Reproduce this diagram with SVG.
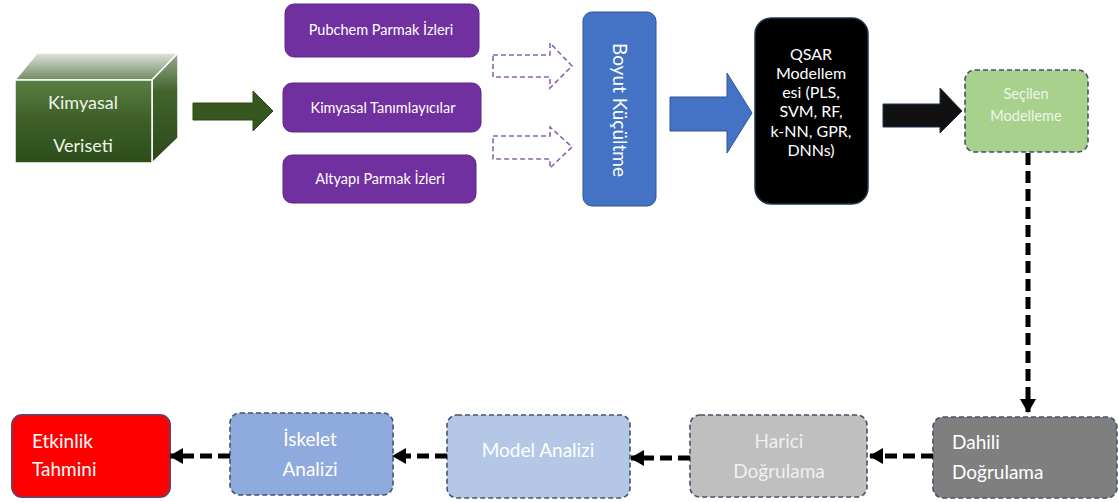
<svg xmlns="http://www.w3.org/2000/svg" width="1118" height="502" viewBox="0 0 1118 502">
  <style>
    .t { font-family: Lato, "Open Sans", "Liberation Sans", sans-serif; fill: #ffffff; }
    .purple { fill: #7030A0; stroke: #5a2585; stroke-width: 1; }
    .hollow { fill: none; stroke: #8a63b0; stroke-width: 1.6; stroke-dasharray: 5 3; }
    .dash { fill: none; stroke: #000000; stroke-width: 5; stroke-dasharray: 12 6; }
    .dbox { stroke: #44546A; stroke-width: 1.6; stroke-dasharray: 5 3; }
  </style>
  <defs>
    <linearGradient id="gFront" x1="0" y1="0" x2="0" y2="1">
      <stop offset="0" stop-color="#5a7f44"/>
      <stop offset="0.45" stop-color="#3f6128"/>
      <stop offset="1" stop-color="#2c4d1b"/>
    </linearGradient>
    <linearGradient id="gTop" x1="0" y1="0" x2="0" y2="1">
      <stop offset="0" stop-color="#dfe3df"/>
      <stop offset="1" stop-color="#6f8c5f"/>
    </linearGradient>
    <linearGradient id="gSide" x1="0" y1="0" x2="0" y2="1">
      <stop offset="0" stop-color="#9aab92"/>
      <stop offset="0.35" stop-color="#41632c"/>
      <stop offset="1" stop-color="#2a4a1a"/>
    </linearGradient>
    <marker id="head" markerUnits="userSpaceOnUse" markerWidth="14" markerHeight="16" refX="13" refY="8" orient="auto">
      <path d="M0,0 L14,8 L0,16 Z" fill="#000000"/>
    </marker>
  </defs>

  <!-- Source data cube -->
  <g id="kimyasal-veriseti">
    <polygon points="15,80 37,53 178,53 152,80" fill="url(#gTop)" stroke="#ffffff" stroke-width="1.5"/>
    <polygon points="152,80 178,53 178,138 152,163" fill="url(#gSide)" stroke="#ffffff" stroke-width="1.5"/>
    <rect x="15" y="80" width="137" height="83" fill="url(#gFront)" stroke="#ffffff" stroke-width="1.5"/>
    <text class="t" x="83" y="109" font-size="18" text-anchor="middle" style="fill:#eef4ea">Kimyasal</text>
    <text class="t" x="83" y="152" font-size="18" text-anchor="middle" style="fill:#eef4ea">Veriseti</text>
  </g>

  <!-- Fingerprint / descriptor boxes -->
  <g id="pubchem">
    <rect class="purple" x="285" y="4" width="194" height="53" rx="9"/>
    <text class="t" x="381" y="35" font-size="14.5" text-anchor="middle">Pubchem Parmak İzleri</text>
  </g>
  <g id="tanimlayicilar">
    <rect class="purple" x="283" y="83" width="198" height="49" rx="9"/>
    <text class="t" x="383" y="113" font-size="14.5" text-anchor="middle">Kimyasal Tanımlayıcılar</text>
  </g>
  <g id="altyapi">
    <rect class="purple" x="283" y="155" width="193" height="48" rx="9"/>
    <text class="t" x="380" y="184" font-size="14.5" text-anchor="middle">Altyapı Parmak İzleri</text>
  </g>

  <!-- Dimension reduction -->
  <g id="boyut-kucultme">
    <rect x="583" y="12" width="73" height="194" rx="9" fill="#4472C4" stroke="#2f5597" stroke-width="1"/>
    <text class="t" transform="translate(613,110) rotate(90)" font-size="19" text-anchor="middle">Boyut Küçültme</text>
  </g>

  <!-- QSAR modelling -->
  <g id="qsar">
    <rect x="755" y="18" width="113" height="186" rx="16" fill="#000000" stroke="#1f3550" stroke-width="1.5"/>
    <g class="t" font-size="16" text-anchor="middle">
      <text x="811" y="60">QSAR</text>
      <text x="811" y="79">Modellem</text>
      <text x="811" y="98">esi (PLS,</text>
      <text x="811" y="117">SVM, RF,</text>
      <text x="811" y="137">k-NN, GPR,</text>
      <text x="811" y="156">DNNs)</text>
    </g>
  </g>

  <!-- Selected model -->
  <g id="secilen">
    <rect class="dbox" x="965" y="70" width="123" height="82" rx="10" fill="#A9D18E"/>
    <text x="1026" y="99" font-size="14.5" text-anchor="middle" class="t" style="fill:#eef5e8">Seçilen</text>
    <text x="1026" y="121" font-size="14.5" text-anchor="middle" class="t" style="fill:#eef5e8">Modelleme</text>
  </g>

  <!-- Validation / analysis row -->
  <g id="dahili">
    <rect class="dbox" x="933" y="417" width="184" height="81" rx="10" fill="#7F7F7F"/>
    <text class="t" x="952" y="449" font-size="19">Dahili</text>
    <text class="t" x="952" y="479" font-size="19">Doğrulama</text>
  </g>
  <g id="harici">
    <rect class="dbox" x="690" y="415" width="177" height="82" rx="10" fill="#BFBFBF"/>
    <text x="779" y="448" font-size="19" text-anchor="middle" class="t" style="fill:#f0f0f0">Harici</text>
    <text x="779" y="478" font-size="19" text-anchor="middle" class="t" style="fill:#f0f0f0">Doğrulama</text>
  </g>
  <g id="model-analizi">
    <rect class="dbox" x="447" y="415" width="183" height="83" rx="10" fill="#B4C7E7"/>
    <text class="t" x="538" y="457" font-size="19" text-anchor="middle">Model Analizi</text>
  </g>
  <g id="iskelet">
    <rect class="dbox" x="230" y="413" width="163" height="82" rx="10" fill="#8FAADC"/>
    <text class="t" x="310" y="446" font-size="19" text-anchor="middle">İskelet</text>
    <text class="t" x="310" y="476" font-size="19" text-anchor="middle">Analizi</text>
  </g>
  <g id="etkinlik">
    <rect x="12" y="415" width="158" height="82" rx="10" fill="#FF0000" stroke="#7b3a5c" stroke-width="2"/>
    <text class="t" x="32" y="448" font-size="19">Etkinlik</text>
    <text class="t" x="32" y="476" font-size="19">Tahmini</text>
  </g>

  <!-- Connectors -->
  <g id="connectors">
    <!-- block arrows -->
    <polygon points="193,103 253,103 253,91 273,111 253,131 253,120 193,120" fill="#38571f" stroke="#2a4518" stroke-width="1"/>
    <path class="hollow" d="M493,55 H550 V43 L572,66 L550,88 V77 H493 Z"/>
    <path class="hollow" d="M493,136 H550 V127 L572,147 L550,168 V159 H493 Z"/>
    <polygon points="670,97 727,97 727,73 752,113 727,153 727,131 670,131" fill="#4472C4" stroke="#2f5597" stroke-width="1"/>
    <polygon points="883,104 940,104 940,88 962,111 940,133 940,127 883,127" fill="#111111" stroke="#1f3550" stroke-width="1"/>
    <!-- dashed flow arrows -->
    <path class="dash" d="M1028,153 V412" marker-end="url(#head)"/>
    <path class="dash" d="M933,456 H870" marker-end="url(#head)"/>
    <path class="dash" d="M690,458 H631" marker-end="url(#head)"/>
    <path class="dash" d="M447,456 H393" marker-end="url(#head)"/>
    <path class="dash" d="M230,456 H170" marker-end="url(#head)"/>
  </g>
</svg>
